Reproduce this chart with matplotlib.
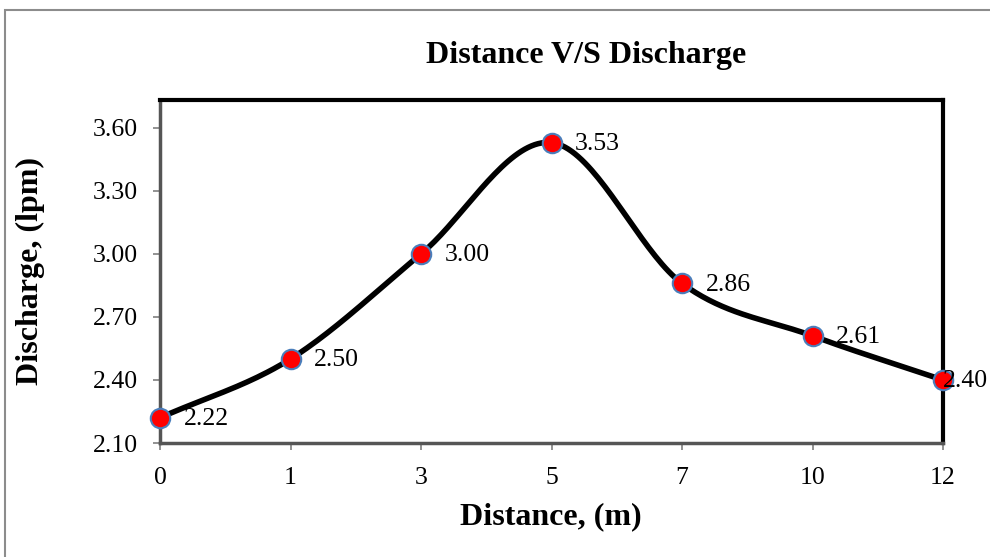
import matplotlib.pyplot as plt
import numpy as np
from matplotlib.patches import Rectangle

# data
distance_labels = ['0', '1', '3', '5', '7', '10', '12']
discharge = [2.22, 2.50, 3.00, 3.53, 2.86, 2.61, 2.40]
y_ticks = [2.10, 2.40, 2.70, 3.00, 3.30, 3.60]


def catmull_rom(xs, ys, n=40):
    """Excel-like smoothed line through the points."""
    px = np.concatenate([[2 * xs[0] - xs[1]], xs, [2 * xs[-1] - xs[-2]]])
    py = np.concatenate([[2 * ys[0] - ys[1]], ys, [2 * ys[-1] - ys[-2]]])
    out_x, out_y = [], []
    t = np.linspace(0, 1, n)
    for i in range(1, len(px) - 2):
        for p, out in ((px, out_x), (py, out_y)):
            p0, p1, p2, p3 = p[i - 1], p[i], p[i + 1], p[i + 2]
            seg = 0.5 * ((2 * p1) + (-p0 + p2) * t
                         + (2 * p0 - 5 * p1 + 4 * p2 - p3) * t ** 2
                         + (-p0 + 3 * p1 - 3 * p2 + p3) * t ** 3)
            out.extend(seg)
    return np.array(out_x), np.array(out_y)


plt.rcParams['font.family'] = ['Liberation Serif', 'DejaVu Serif']

W, H = 990, 557
fig = plt.figure(figsize=(W / 100, H / 100), dpi=100)
ax = fig.add_axes([160 / W, 1 - 443 / H, (943 - 160) / W, (443 - 100) / H])

# outer chart border
fig.patches.append(Rectangle((5 / W, -0.01), 1.0, 1 - 10 / H + 0.01,
                             transform=fig.transFigure, fill=False,
                             edgecolor='#8c8c8c', linewidth=1.5))

idx = np.arange(len(discharge))
sx, sy = catmull_rom(idx.astype(float), np.array(discharge))
ax.plot(sx, sy, color='black', linewidth=4, zorder=3, clip_on=False,
        solid_capstyle='round')
ax.plot(idx, discharge, linestyle='none', marker='o', markersize=14,
        markerfacecolor='#ff0000', markeredgecolor='#4a7ebb',
        markeredgewidth=1.5, zorder=5, clip_on=False)

for i, v in zip(idx, discharge):
    # last label is squeezed against the chart edge, like in the original
    dx = 0 if i == idx[-1] else 17
    ax.annotate(f'{v:.2f}', (i, v), xytext=(dx, -1), textcoords='offset points',
                ha='left', va='center', fontsize=18.5, zorder=6)

ax.set_xlim(0, len(discharge) - 1)
ax.set_ylim(2.10, 3.733)
ax.set_xticks(idx)
ax.set_xticklabels(distance_labels)
ax.set_yticks(y_ticks)
ax.set_yticklabels([f'{t:.2f}' for t in y_ticks])

for side in ('top', 'right'):
    ax.spines[side].set_color('black')
    ax.spines[side].set_linewidth(3)
for side in ('left', 'bottom'):
    ax.spines[side].set_color('#555555')
    ax.spines[side].set_linewidth(2.5)

ax.tick_params(axis='both', direction='out', length=5, width=1.2,
               color='#7f7f7f', labelsize=18.5)
ax.tick_params(axis='y', pad=11)
ax.tick_params(axis='x', pad=12)

fig.text(551 / W, 1 - 517 / H, 'Distance, (m)', ha='center', va='center',
         fontsize=23, fontweight='bold')
fig.text(30 / W, 1 - 271 / H, 'Discharge, (lpm)', ha='center', va='center',
         rotation=90, fontsize=23, fontweight='bold')
fig.text(586 / W, 1 - 55 / H, 'Distance V/S Discharge', ha='center',
         va='center', fontsize=23, fontweight='bold')

plt.savefig('out.png', dpi=100)
